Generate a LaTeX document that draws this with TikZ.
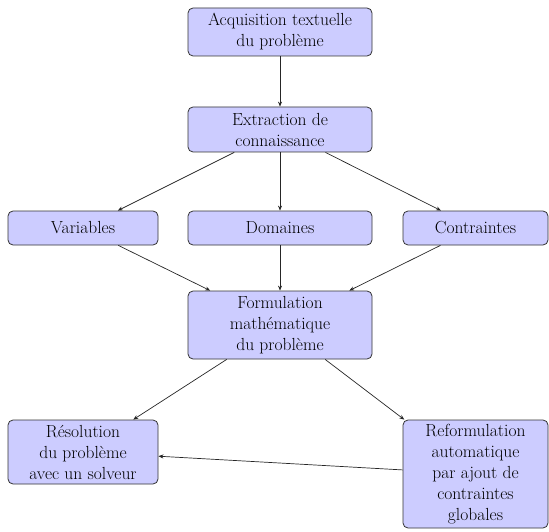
\documentclass[tikz,border=0pt]{standalone}
\usetikzlibrary{arrows.meta}
\tikzset{
  box/.style={draw=black!80, line width=0.8pt, fill=blue!20, rounded corners=5pt,
    align=center, inner sep=0pt, font=\fontsize{17.5}{21}\selectfont},
  conn/.style={-{Stealth[length=5pt,width=4pt]}, line width=0.7pt, draw=black!85}
}
\begin{document}
\begin{tikzpicture}[x=1pt,y=-1pt]
\useasboundingbox (0,0) rectangle (549,532);
\node[box, minimum width=184pt, minimum height=48pt] (acq) at (280,32) {Acquisition textuelle\\du problème};
\node[box, minimum width=184pt, minimum height=45pt] (ext) at (280,129.5) {Extraction de\\connaissance};
\node[box, minimum width=150pt, minimum height=34pt] (var) at (83,228) {Variables};
\node[box, minimum width=184pt, minimum height=34pt] (dom) at (280,228) {Domaines};
\node[box, minimum width=145pt, minimum height=34pt] (con) at (475.5,228) {Contraintes};
\node[box, minimum width=184pt, minimum height=68pt] (form) at (280,325) {Formulation\\mathématique\\du problème};
\node[box, minimum width=150pt, minimum height=64pt] (res) at (83,452) {Résolution\\du problème\\avec un solveur};
\node[box, minimum width=145pt, minimum height=108pt] (ref) at (475.5,474) {Reformulation\\automatique\\par ajout de\\contraintes\\globales};
\draw[conn] (acq) -- (ext);
\draw[conn] (ext) -- (var);
\draw[conn] (ext) -- (dom);
\draw[conn] (ext) -- (con);
\draw[conn] (var) -- (form);
\draw[conn] (dom) -- (form);
\draw[conn] (con) -- (form);
\draw[conn] (form) -- (res);
\draw[conn] (form) -- (ref);
\draw[conn] (ref) -- (res);
\end{tikzpicture}
\end{document}
